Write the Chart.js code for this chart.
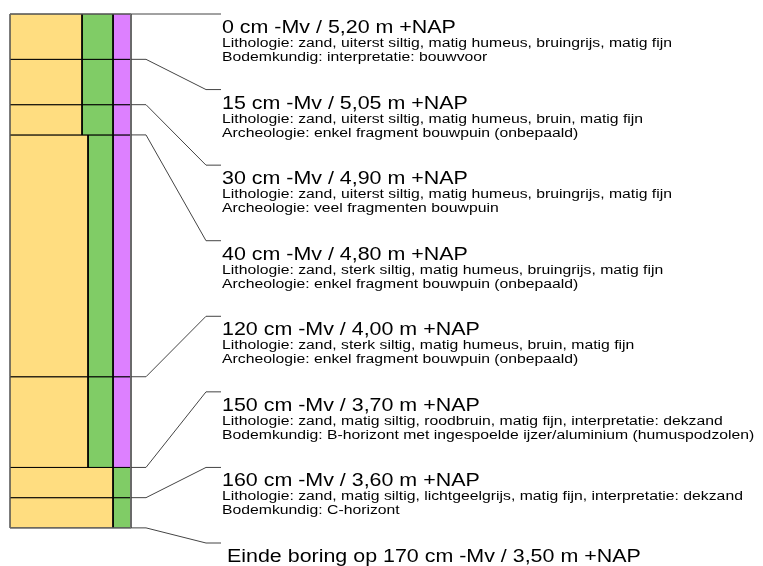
<!DOCTYPE html>
<html>
<head>
<meta charset="utf-8">
<title>Boorbeschrijving</title>
<script src="https://cdn.jsdelivr.net/npm/chart.js@4/dist/chart.umd.min.js"></script>
<style>
    body { margin: 0; background: #fff; }
    canvas { display: block; }
</style>
</head>
<body>
<canvas id="boring-chart" width="763" height="566"></canvas>
<script>
/**
 * Boring log (boorprofiel) drawn with Chart.js
 */

// Layers: top/bottom depth in cm -Mv
const layerTop = [0, 15, 30, 40, 120, 150, 160];
const layerBottom = [15, 30, 40, 120, 150, 160, 170];

// Column values per layer (width units, column starts at 0)
const lithoValue = [72, 72, 72, 78, 78, 103, 103];
const greenValue = [103, 103, 103, 103, 103, 121, 121];
const purpleValue = [121, 121, 121, 121, 121, null, null];

// Label texts, one block per boundary
const labelDepth = [0, 25, 50, 75, 100, 125, 150, 175];
const boundaryDepth = [0, 15, 30, 40, 120, 150, 160, 170];
const titles = [
    '0 cm -Mv / 5,20 m +NAP',
    '15 cm -Mv / 5,05 m +NAP',
    '30 cm -Mv / 4,90 m +NAP',
    '40 cm -Mv / 4,80 m +NAP',
    '120 cm -Mv / 4,00 m +NAP',
    '150 cm -Mv / 3,70 m +NAP',
    '160 cm -Mv / 3,60 m +NAP',
    'Einde boring op 170 cm -Mv / 3,50 m +NAP'
];
const lineOne = [
    'Lithologie: zand, uiterst siltig, matig humeus, bruingrijs, matig fijn',
    'Lithologie: zand, uiterst siltig, matig humeus, bruin, matig fijn',
    'Lithologie: zand, uiterst siltig, matig humeus, bruingrijs, matig fijn',
    'Lithologie: zand, sterk siltig, matig humeus, bruingrijs, matig fijn',
    'Lithologie: zand, sterk siltig, matig humeus, bruin, matig fijn',
    'Lithologie: zand, matig siltig, roodbruin, matig fijn, interpretatie: dekzand',
    'Lithologie: zand, matig siltig, lichtgeelgrijs, matig fijn, interpretatie: dekzand',
    ''
];
const lineTwo = [
    'Bodemkundig: interpretatie: bouwvoor',
    'Archeologie: enkel fragment bouwpuin (onbepaald)',
    'Archeologie: veel fragmenten bouwpuin',
    'Archeologie: enkel fragment bouwpuin (onbepaald)',
    'Archeologie: enkel fragment bouwpuin (onbepaald)',
    'Bodemkundig: B-horizont met ingespoelde ijzer/aluminium (humuspodzolen)',
    'Bodemkundig: C-horizont',
    ''
];

// Connector break points (x units)
const columnRight = 121;
const bendStart = 136;
const bendEnd = 196;
const textStart = 212;

const YELLOW = '#ffdd80';
const GREEN = '#80cc66';
const PURPLE = '#dd80ff';

/**
 * Build a closed rectangle as a line dataset
 */
function rect(x0, x1, y0, y1, color) {
    return {
        data: [
            {x: x0, y: y0}, {x: x1, y: y0}, {x: x1, y: y1}, {x: x0, y: y1}, {x: x0, y: y0}
        ],
        backgroundColor: color,
        borderColor: '#000',
        borderWidth: 1,
        fill: 'shape',
        order: 3
    };
}

const datasets = [];

// Column cells
layerTop.forEach((top, i) => {
    const bottom = layerBottom[i];
    datasets.push(rect(0, lithoValue[i], top, bottom, YELLOW));
    datasets.push(rect(lithoValue[i], greenValue[i], top, bottom, GREEN));
    if (purpleValue[i] !== null) {
        datasets.push(rect(greenValue[i], purpleValue[i], top, bottom, PURPLE));
    }
});

// Outer outline of the column
datasets.push({
    data: [
        {x: 0, y: 0}, {x: columnRight, y: 0}, {x: columnRight, y: 170}, {x: 0, y: 170}, {x: 0, y: 0}
    ],
    borderColor: '#777',
    borderWidth: 1,
    fill: false,
    order: 2
});

// Connectors from boundaries to label blocks
boundaryDepth.forEach((d, i) => {
    datasets.push({
        data: [
            {x: columnRight, y: d},
            {x: bendStart, y: d},
            {x: bendEnd, y: labelDepth[i]},
            {x: textStart - 1, y: labelDepth[i]}
        ],
        borderColor: '#444',
        borderWidth: 1,
        fill: false,
        order: 1
    });
});

// Draw text squeezed/stretched horizontally like the original export
function wideText(ctx, text, px, py, font, sx) {
    ctx.save();
    ctx.translate(px, py);
    ctx.scale(sx, 1);
    ctx.font = font;
    ctx.fillText(text, 0, 0);
    ctx.restore();
}

// Label texts next to the connectors
const labelPlugin = {
    id: 'boringLabels',
    afterDatasetsDraw(chart) {
        const {ctx, scales: {x, y}} = chart;
        ctx.save();
        ctx.fillStyle = '#000';
        ctx.textBaseline = 'alphabetic';
        ctx.textAlign = 'left';
        labelDepth.forEach((d, i) => {
            const px = x.getPixelForValue(textStart);
            const py = y.getPixelForValue(d);
            const last = i === labelDepth.length - 1;
            wideText(ctx, titles[i], px + (last ? 5 : 0), py + 19,
                '18px "Liberation Sans", Arial, sans-serif', 1.19);
            wideText(ctx, lineOne[i], px, py + 33,
                '12.5px "Liberation Sans", Arial, sans-serif', 1.26);
            wideText(ctx, lineTwo[i], px, py + 47,
                '12.5px "Liberation Sans", Arial, sans-serif', 1.26);
        });
        ctx.restore();
    }
};

const boringChart = new Chart(document.getElementById('boring-chart'), {
    type: 'line',
    data: { datasets: datasets },
    options: {
        responsive: false,
        animation: false,
        devicePixelRatio: 1,
        events: [],
        layout: { padding: { top: 14, left: 10, right: 0, bottom: 23 } },
        elements: {
            point: { radius: 0, hoverRadius: 0 },
            line: { tension: 0 }
        },
        datasets: { line: { clip: false } },
        scales: {
            x: { type: 'linear', min: 0, max: 753, display: false },
            y: { type: 'linear', min: 0, max: 175, reverse: true, display: false }
        },
        plugins: {
            legend: { display: false },
            tooltip: { enabled: false }
        }
    },
    plugins: [labelPlugin]
});
</script>
</body>
</html>
